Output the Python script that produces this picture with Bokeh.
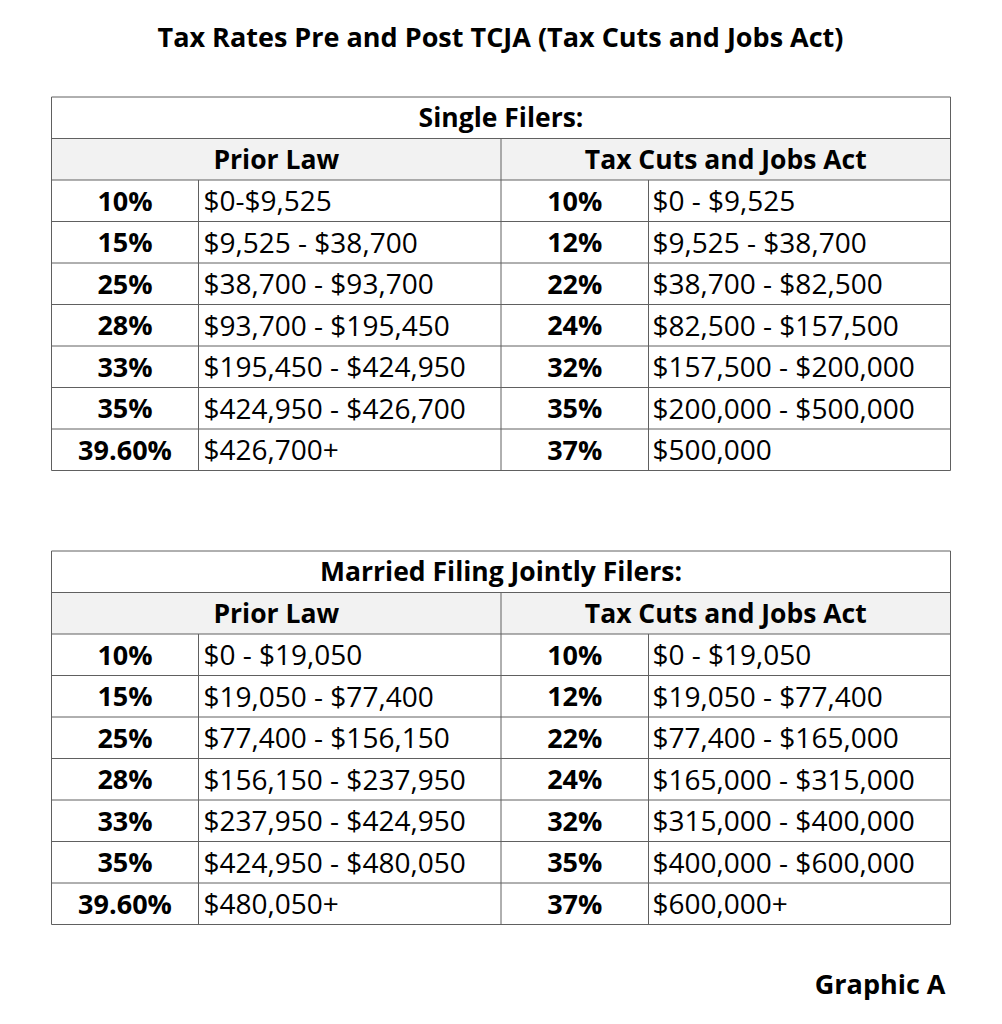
from bokeh.plotting import figure
from bokeh.models import Range1d, ColumnDataSource
from bokeh.core.properties import value
from bokeh.embed import file_html
from bokeh.resources import INLINE

# ---- data ----
title = "Tax Rates Pre and Post TCJA (Tax Cuts and Jobs Act)"
footer = "Graphic A"
table_titles = ["Single Filers:", "Married Filing Jointly Filers:"]
headers = ["Prior Law", "Tax Cuts and Jobs Act"]
rates_prior = ["10%", "15%", "25%", "28%", "33%", "35%", "39.60%"]
rates_tcja = ["10%", "12%", "22%", "24%", "32%", "35%", "37%"]
single_prior = ["$0-$9,525", "$9,525 - $38,700", "$38,700 - $93,700", "$93,700 - $195,450",
                "$195,450 - $424,950", "$424,950 - $426,700", "$426,700+"]
single_tcja = ["$0 - $9,525", "$9,525 - $38,700", "$38,700 - $82,500", "$82,500 - $157,500",
               "$157,500 - $200,000", "$200,000 - $500,000", "$500,000"]
married_prior = ["$0 - $19,050", "$19,050 - $77,400", "$77,400 - $156,150", "$156,150 - $237,950",
                 "$237,950 - $424,950", "$424,950 - $480,050", "$480,050+"]
married_tcja = ["$0 - $19,050", "$19,050 - $77,400", "$77,400 - $165,000", "$165,000 - $315,000",
                "$315,000 - $400,000", "$400,000 - $600,000", "$600,000+"]

FONT = value("Open Sans")
BORDER = "#606060"
HEADER_BG = "#f2f2f2"

W, H = 986, 1008
p = figure(width=W, height=H, x_range=Range1d(0, W), y_range=Range1d(H, 0),
           output_backend="svg", toolbar_location=None, min_border=0)
p.axis.visible = False
p.grid.visible = False
p.outline_line_color = None
p.background_fill_color = "white"

# title
p.text(x=[500], y=[36], text=[title], text_font=FONT, text_font_style="bold",
       text_font_size="27px", text_align="center", text_baseline="middle", text_color="black")

L, M, R = 51, 500.5, 950
C1, C2 = 198, 648
ROW = 41.5
DY = -0.5


def draw_table(top, ttl, prior_rates, prior_vals, tcja_rates, tcja_vals):
    n = len(prior_rates)
    rows_y = [top + ROW * i for i in range(n + 3)]
    bottom = rows_y[-1]
    # header background
    p.quad(left=[L], right=[R], top=[rows_y[1]], bottom=[rows_y[2]], fill_color=HEADER_BG,
           line_color=None)
    # horizontal lines
    p.segment(x0=[L] * len(rows_y), x1=[R] * len(rows_y), y0=rows_y, y1=rows_y,
              line_color=BORDER, line_width=1)
    # vertical lines
    vx0 = [L, R, M, C1, C2]
    vy0 = [top, top, rows_y[1], rows_y[2], rows_y[2]]
    p.segment(x0=vx0, x1=vx0, y0=vy0, y1=[bottom] * 5, line_color=BORDER, line_width=1)
    # title row
    p.text(x=[(L + R) / 2], y=[(rows_y[0] + rows_y[1]) / 2 + DY], text=[ttl], text_font=FONT,
           text_font_style="bold", text_font_size="26.5px", text_align="center",
           text_baseline="middle", text_color="black")
    # headers
    p.text(x=[(L + M) / 2, (M + R) / 2], y=[(rows_y[1] + rows_y[2]) / 2 + DY] * 2, text=headers,
           text_font=FONT, text_font_style="bold", text_font_size="26.5px", text_align="center",
           text_baseline="middle", text_color="black")
    ys = [(rows_y[i + 2] + rows_y[i + 3]) / 2 + DY for i in range(n)]
    src = ColumnDataSource(dict(y=ys, pr=prior_rates, pv=prior_vals, tr=tcja_rates, tv=tcja_vals))
    p.text(x=(L + C1) / 2, y="y", text="pr", source=src, text_font=FONT, text_font_style="bold",
           text_font_size="27px", text_align="center", text_baseline="middle", text_color="black")
    p.text(x=(M + C2) / 2, y="y", text="tr", source=src, text_font=FONT, text_font_style="bold",
           text_font_size="27px", text_align="center", text_baseline="middle", text_color="black")
    p.text(x=C1 + 5, y="y", text="pv", source=src, text_font=FONT, text_font_size="28px",
           text_align="left", text_baseline="middle", text_color="black")
    p.text(x=C2 + 4, y="y", text="tv", source=src, text_font=FONT, text_font_size="28px",
           text_align="left", text_baseline="middle", text_color="black")


draw_table(96.5, table_titles[0], rates_prior, single_prior, rates_tcja, single_tcja)
draw_table(550.5, table_titles[1], rates_prior, married_prior, rates_tcja, married_tcja)

p.text(x=[945], y=[983], text=[footer], text_font=FONT, text_font_style="bold",
       text_font_size="27px", text_align="right", text_baseline="middle", text_color="black")

open("out.html", "w").write(file_html(p, INLINE))
